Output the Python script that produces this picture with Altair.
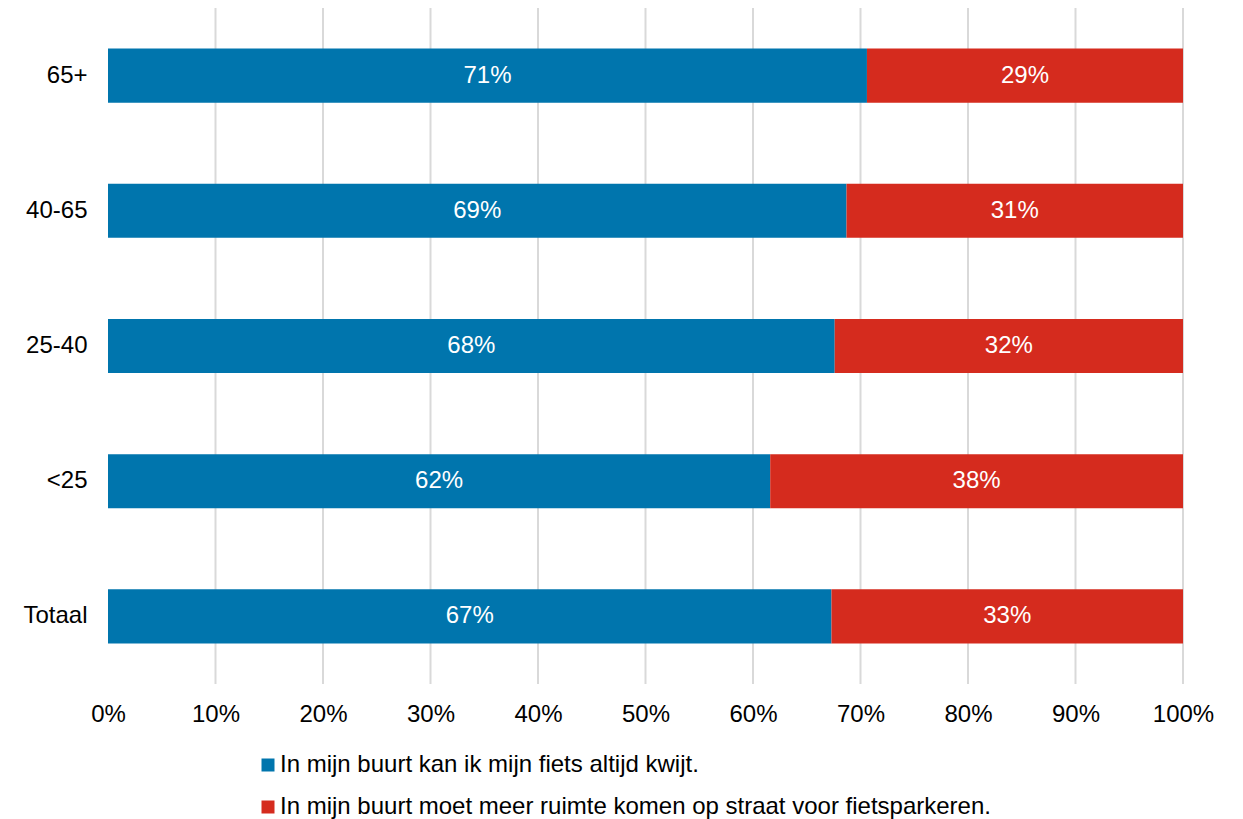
import altair as alt
import pandas as pd

groups = ["65+", "40-65", "25-40", "<25", "Totaal"]
agree = [0.706, 0.687, 0.676, 0.616, 0.673]
disagree = [0.294, 0.313, 0.324, 0.384, 0.327]
series = ["In mijn buurt kan ik mijn fiets altijd kwijt.",
          "In mijn buurt moet meer ruimte komen op straat voor fietsparkeren."]
colors = ["#0075AD", "#D52B1E"]
ticks = [0.1, 0.2, 0.3, 0.4, 0.5, 0.6, 0.7, 0.8, 0.9, 1.0]
axis_values = [0.0] + ticks

rows = []
for g, a, d in zip(groups, agree, disagree):
    rows.append({"group": g, "series": series[0], "value": a, "ord": 0})
    rows.append({"group": g, "series": series[1], "value": d, "ord": 1})
df = pd.DataFrame(rows)
grid_df = pd.DataFrame({"t": ticks})

W, H = 1075, 676
FONT = "Liberation Sans"
FS = 24

xscale = alt.Scale(domain=[0, 1], nice=False, zero=True)

grid = alt.Chart(grid_df).mark_rule(color="#D9D9D9", strokeWidth=2).encode(
    x=alt.X("t:Q", scale=xscale),
    y=alt.value(0),
    y2=alt.value(H),
)

base = alt.Chart(df).transform_stack(
    stack="value", groupby=["group"], as_=["x0", "x1"],
    sort=[alt.SortField("ord", order="ascending")]
)

yenc = alt.Y("group:N", sort=groups, title=None,
             scale=alt.Scale(paddingInner=0.6, paddingOuter=0.3),
             axis=alt.Axis(domain=False, ticks=False, labelPadding=21,
                           labelFontSize=FS, labelFont=FONT, labelColor="#000000"))

bars = base.mark_bar().encode(
    x=alt.X("x0:Q", scale=xscale, title=None,
            axis=alt.Axis(values=axis_values, format=".0%", grid=False,
                          domain=False, ticks=False, labelPadding=18, labelFlush=False,
                          labelFontSize=FS, labelFont=FONT, labelColor="#000000")),
    x2="x1:Q",
    y=yenc,
    color=alt.Color("series:N", scale=alt.Scale(domain=series, range=colors),
                    legend=alt.Legend(title=None, orient="none", legendX=148, legendY=745,
                                      direction="vertical", symbolType="square",
                                      symbolSize=169, symbolStrokeWidth=0,
                                      labelFontSize=FS, labelFont=FONT, labelColor="#000000",
                                      labelOffset=0, rowPadding=18, padding=0,
                                      labelLimit=1000)),
)

labels = base.transform_calculate(mid="(datum.x0 + datum.x1) / 2").mark_text(
    color="white", fontSize=FS, font=FONT
).encode(
    x=alt.X("mid:Q", scale=xscale),
    y=alt.Y("group:N", sort=groups),
    text=alt.Text("value:Q", format=".0%"),
)

chart = alt.layer(grid, bars, labels).properties(
    width=W, height=H,
    background="white",
    autosize=alt.AutoSizeParams(type="none"),
    padding={"left": 100, "top": 0, "right": 52, "bottom": 135},
).configure_view(stroke=None)

chart.save("out.html", embed_options={"renderer": "svg", "actions": False})
